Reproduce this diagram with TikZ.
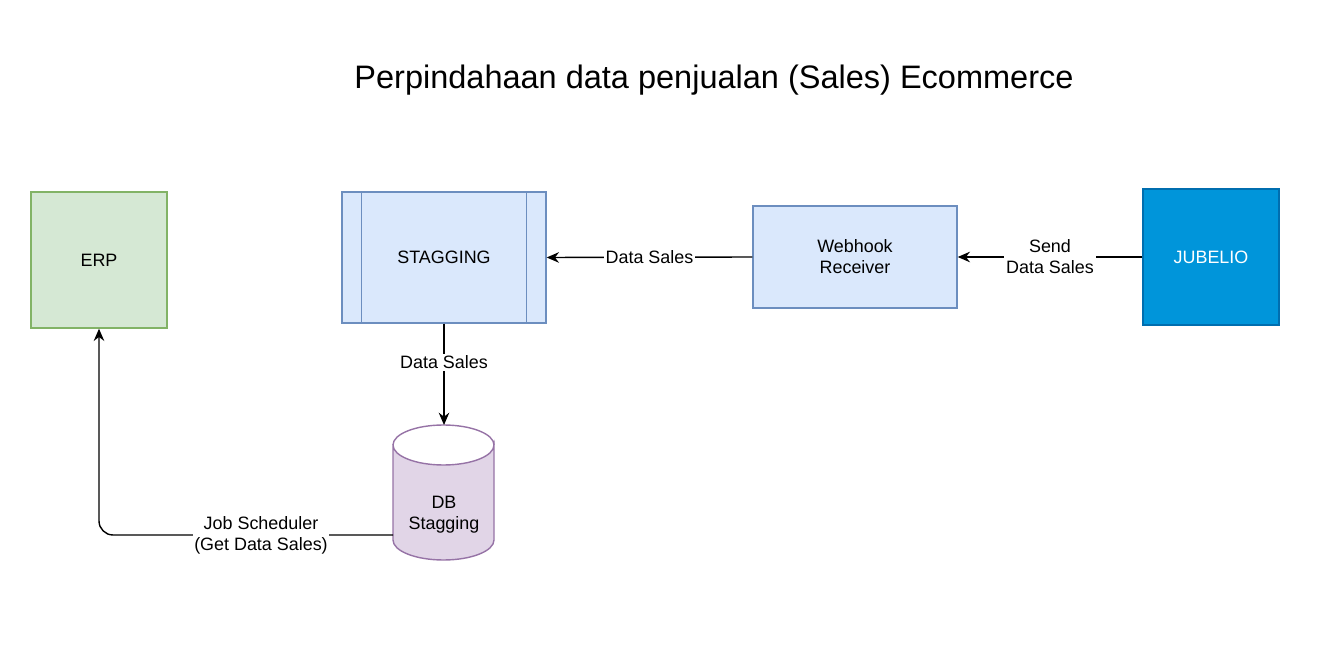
\documentclass[tikz,border=0pt]{standalone}
\usepackage{fontspec}
\setmainfont{Liberation Sans}
\usetikzlibrary{arrows.meta}
\definecolor{gf}{HTML}{D5E8D4}\definecolor{gd}{HTML}{82B366}
\definecolor{bf}{HTML}{DAE8FC}\definecolor{bd}{HTML}{6C8EBF}
\definecolor{jf}{HTML}{0095DA}\definecolor{jd}{HTML}{006EAF}
\definecolor{pf}{HTML}{E1D5E7}\definecolor{pd}{HTML}{9673A6}
\begin{document}
\begin{tikzpicture}[x=0.02cm,y=-0.02cm,
  box/.style={draw, line width=0.8pt, minimum width=#1, inner sep=0pt, align=center, font=\fontsize{10.2}{12}\selectfont},
  lbl/.style={fill=white, inner sep=1pt, align=center, font=\fontsize{10.2}{12}\selectfont},
  conn/.style={line width=0.8pt, -{Stealth[length=7pt,width=6pt]}}]
\useasboundingbox (0,0) rectangle (1322,658);
\node[font=\fontsize{18.5}{22}\selectfont] (title) at (714,80) {Perpindahaan data penjualan (Sales) Ecommerce};
\node[box, fill=gf, draw=gd, minimum width=2.72cm, minimum height=2.72cm] (erp) at (99,260) {ERP};
\node[box, fill=bf, draw=bd, minimum width=4.08cm, minimum height=2.62cm] (stg) at (444,257.5) {STAGGING};
\draw[bd, line width=0.8pt] ([xshift=0.4cm]stg.north west) -- ([xshift=0.4cm]stg.south west)
  ([xshift=-0.4cm]stg.north east) -- ([xshift=-0.4cm]stg.south east);
\node[box, fill=bf, draw=bd, minimum width=4.08cm, minimum height=2.04cm] (wh) at (855,257) {Webhook\\Receiver};
\node[box, fill=jf, draw=jd, text=white, minimum width=2.72cm, minimum height=2.72cm] (jub) at (1211,257) {JUBELIO};
% cylinder
\coordinate (dbtop) at (444,425);
\coordinate (dbleft) at (393,535);
\draw[pd, fill=pf, line width=0.8pt] (393,445) -- (393,540) arc[start angle=180,end angle=360,x radius=50.5,y radius=-20] -- (494,445) arc[start angle=0,end angle=-180,x radius=50.5,y radius=-20] -- cycle;
\draw[pd, line width=0.8pt] (393,445) arc[start angle=180,end angle=0,x radius=50.5,y radius=-20];
\node[align=center, font=\fontsize{10.2}{12}\selectfont] (db) at (444,515) {DB\\Stagging};
\draw[conn] (jub.west) -- node[lbl]{Send\\Data Sales} (wh.east);
\draw[conn] (wh.west) -- node[lbl]{Data Sales} (stg.east);
\draw[conn] (stg.south) -- node[lbl, pos=0.38]{Data Sales} (dbtop);
\draw[conn, rounded corners=8pt] (dbleft) -- (99,535) -- (erp.south);
\node[lbl] (js) at (261,535) {Job Scheduler\\(Get Data Sales)};
\end{tikzpicture}
\end{document}
